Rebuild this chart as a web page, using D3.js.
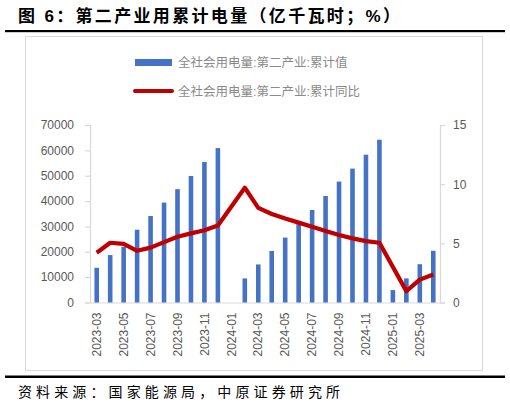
<!DOCTYPE html>
<html>
<head>
<meta charset="utf-8">
<script src="https://cdn.jsdelivr.net/npm/d3@7"></script>
<style>
    body { margin: 0; background: #fff; }
    text { font-family: "Liberation Sans", "Noto Sans CJK SC", sans-serif; }
</style>
</head>
<body>
<svg id="chart"></svg>
<script>
// Daten
const months = [
    "2023-03", "2023-04", "2023-05", "2023-06", "2023-07", "2023-08", "2023-09",
    "2023-10", "2023-11", "2023-12", "2024-01", "2024-02", "2024-03", "2024-04",
    "2024-05", "2024-06", "2024-07", "2024-08", "2024-09", "2024-10", "2024-11",
    "2024-12", "2025-01", "2025-02", "2025-03", "2025-04"
];
// 累计值 (亿千瓦时)
const cumValue = [
    13700, 18700, 22000, 28700, 34100, 39400, 44700, 49900, 55400, 60900,
    null, 9500, 15000, 20300, 25600, 30900, 36500, 42000, 47700, 52800, 58300,
    64200, 4900, 9500, 15100, 20400
];
// 累计同比 (%)
const cumYoY = [
    4.2, 5.05, 4.95, 4.37, 4.64, 5.1, 5.56, 5.84, 6.1, 6.5,
    null, 9.7, 8.0, 7.48, 7.1, 6.75, 6.4, 6.04, 5.7, 5.42, 5.19,
    5.05, null, 0.96, 1.93, 2.37
];
const leftTicks = [0, 10000, 20000, 30000, 40000, 50000, 60000, 70000];
const rightTicks = [0, 5, 10, 15];
const xTickLabels = months.filter((m, i) => i % 2 === 0);

const titleText = "图 6：第二产业用累计电量（亿千瓦时；%）";
const sourceText = "资料来源：国家能源局，中原证券研究所";
const legendLabels = ["全社会用电量:第二产业:累计值", "全社会用电量:第二产业:累计同比"];

const width = 510, height = 409;
const plot = { left: 90, right: 440, top: 125, bottom: 302.5 };
const blue = "#4472c4", red = "#c00000", axisGrey = "#d9d9d9", textGrey = "#595959";

const svg = d3.select("#chart")
    .attr("width", width)
    .attr("height", height);

// Titel + Linien
svg.append("text")
    .attr("x", 18)
    .attr("y", 22)
    .attr("font-size", 17)
    .attr("font-weight", "bold")
    .attr("font-family", "'Noto Sans CJK SC', sans-serif")
    .attr("textLength", 382)
    .attr("lengthAdjust", "spacing")
    .text(titleText);

svg.append("rect")
    .attr("x", 5).attr("y", 30)
    .attr("width", 500).attr("height", 2.2)
    .attr("fill", "#000");

svg.append("rect")
    .attr("x", 25.5).attr("y", 36.5)
    .attr("width", 457).attr("height", 334)
    .attr("fill", "none")
    .attr("stroke", axisGrey);

svg.append("rect")
    .attr("x", 5).attr("y", 375.5)
    .attr("width", 500).attr("height", 2.5)
    .attr("fill", "#000");

svg.append("text")
    .attr("x", 18)
    .attr("y", 397)
    .attr("font-size", 14)
    .attr("font-family", "'Noto Sans CJK SC', serif")
    .attr("textLength", 322)
    .attr("lengthAdjust", "spacing")
    .text(sourceText);

// Legende
svg.append("rect")
    .attr("x", 135).attr("y", 59)
    .attr("width", 37).attr("height", 7)
    .attr("fill", blue);

svg.append("line")
    .attr("x1", 135).attr("x2", 172)
    .attr("y1", 91).attr("y2", 91)
    .attr("stroke", red)
    .attr("stroke-width", 4)
    .attr("stroke-linecap", "round");

svg.selectAll(".legend-text")
    .data(legendLabels)
    .join("text")
    .attr("class", "legend-text")
    .attr("x", 178)
    .attr("y", (d, i) => 67 + i * 29)
    .attr("font-size", 12.5)
    .attr("fill", "#8a8a8a")
    .text(d => d);

// Skalen
const xScale = d3.scaleBand()
    .domain(months)
    .range([plot.left, plot.right]);

const yLeft = d3.scaleLinear()
    .domain([0, 70000])
    .range([plot.bottom, plot.top]);

const yRight = d3.scaleLinear()
    .domain([0, 15])
    .range([plot.bottom, plot.top]);

// Achsen
const leftAxis = svg.append("g")
    .attr("transform", `translate(${plot.left}, 0)`)
    .call(d3.axisLeft(yLeft).tickValues(leftTicks).tickFormat(d3.format("d")).tickSize(5).tickPadding(11));

const rightAxis = svg.append("g")
    .attr("transform", `translate(${plot.right}, 0)`)
    .call(d3.axisRight(yRight).tickValues(rightTicks).tickFormat(d3.format("d")).tickSize(5).tickPadding(8));

const bottomAxis = svg.append("g")
    .attr("transform", `translate(0, ${plot.bottom})`)
    .call(d3.axisBottom(xScale).tickValues(xTickLabels).tickSize(0).tickPadding(10));

[leftAxis, rightAxis, bottomAxis].forEach(ax => {
    ax.select(".domain").attr("stroke", axisGrey).attr("stroke-width", 1.2);
    ax.selectAll(".tick line").attr("stroke", axisGrey).attr("stroke-width", 1.2);
    ax.selectAll(".tick text")
        .attr("fill", textGrey)
        .attr("font-size", 12)
        .attr("font-family", "'Liberation Sans', sans-serif");
});

bottomAxis.selectAll(".tick text")
    .attr("transform", "rotate(-90)")
    .attr("text-anchor", "end")
    .attr("x", -10)
    .attr("y", 0)
    .attr("dy", "0.35em");

// Balken
const barWidth = xScale.bandwidth() * 0.34;
svg.append("g")
    .selectAll("rect")
    .data(months.map((m, i) => ({ month: m, value: cumValue[i] })).filter(d => d.value != null))
    .join("rect")
    .attr("x", d => xScale(d.month) + xScale.bandwidth() / 2 - barWidth / 2)
    .attr("y", d => yLeft(d.value))
    .attr("width", barWidth)
    .attr("height", d => yLeft(0) - yLeft(d.value))
    .attr("fill", blue);

// Linie (Lücken verbinden)
const lineData = months.map((m, i) => ({ month: m, value: cumYoY[i] })).filter(d => d.value != null);
svg.append("path")
    .datum(lineData)
    .attr("fill", "none")
    .attr("stroke", red)
    .attr("stroke-width", 4.2)
    .attr("stroke-linejoin", "round")
    .attr("d", d3.line()
        .x(d => xScale(d.month) + xScale.bandwidth() / 2)
        .y(d => yRight(d.value))
    );
</script>
</body>
</html>
